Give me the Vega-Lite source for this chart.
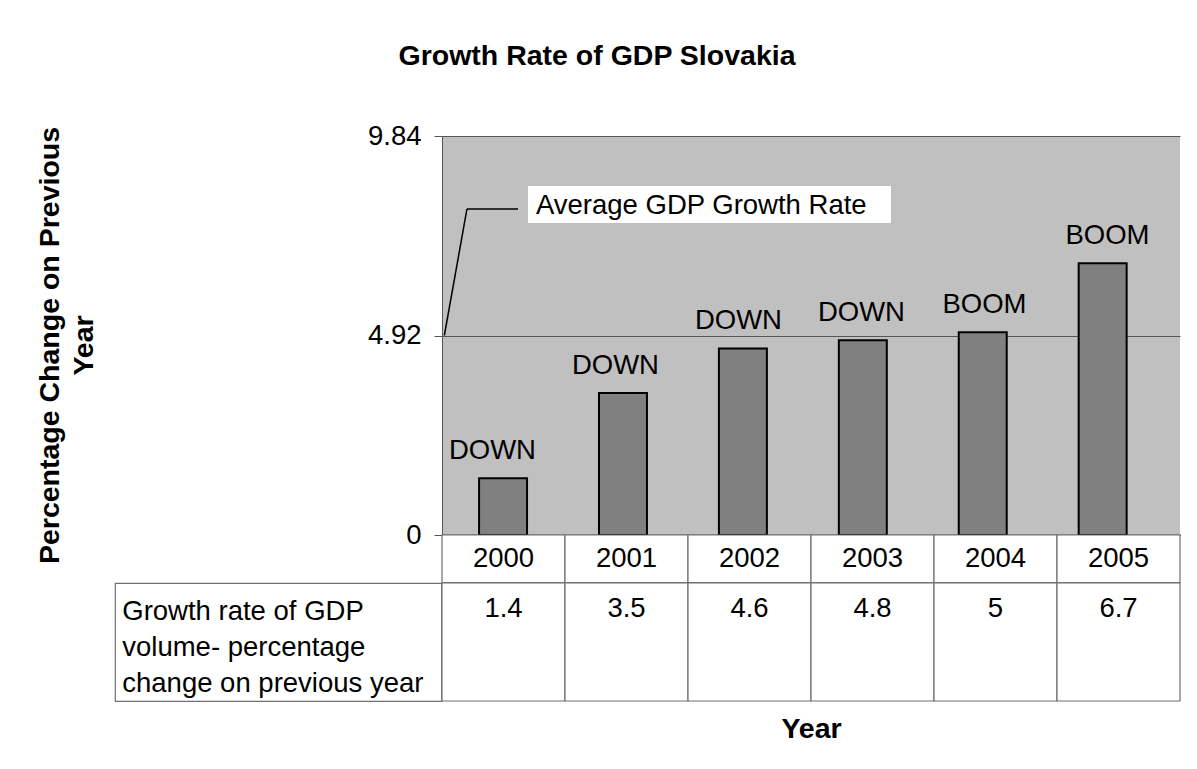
{
  "$schema": "https://vega.github.io/schema/vega-lite/v6.json",
  "background": "white",
  "padding": {"left": 35, "top": 41, "right": 5, "bottom": 5},
  "autosize": {"type": "pad"},
  "config": {"font": "Liberation Sans", "view": {"stroke": null}},
  "datasets": {
    "gdp": [
      {"year": "2000", "growth": 1.4, "phase": "DOWN"},
      {"year": "2001", "growth": 3.5, "phase": "DOWN"},
      {"year": "2002", "growth": 4.6, "phase": "DOWN"},
      {"year": "2003", "growth": 4.8, "phase": "DOWN"},
      {"year": "2004", "growth": 5.0, "phase": "BOOM"},
      {"year": "2005", "growth": 6.7, "phase": "BOOM"}
    ],
    "notes": [
      {"note": "Average GDP Growth Rate", "level": 4.92}
    ]
  },
  "columns": 2,
  "spacing": 0,
  "bounds": "flush",
  "concat": [
    {
      "width": 326.5,
      "height": 399,
      "data": {"values": []},
      "mark": "point"
    },
    {
      "width": 738,
      "height": 399,
      "title": {
        "text": "Growth Rate of GDP Slovakia",
        "fontSize": 28.5,
        "fontWeight": "bold",
        "color": "black",
        "anchor": "middle",
        "frame": "group",
        "baseline": "alphabetic",
        "dx": -214,
        "offset": 29
      },
      "view": {"fill": "#C0C0C0", "stroke": null},
      "data": {"name": "gdp"},
      "resolve": {"scale": {"x": "independent"}},
      "layer": [
        {
          "mark": {"type": "bar", "fill": "#808080", "stroke": "black", "strokeWidth": 2},
          "encoding": {
            "x": {
              "field": "year",
              "type": "nominal",
              "scale": {"paddingInner": 0.6, "paddingOuter": 0.377, "align": 0.41},
              "axis": {"labels": false, "ticks": false, "grid": false, "title": null, "domain": true, "domainColor": "black", "domainWidth": 1.5}
            },
            "y": {
              "field": "growth",
              "type": "quantitative",
              "scale": {"domain": [0, 9.84], "nice": false, "zero": true},
              "axis": {
                "values": [0, 4.92, 9.84],
                "format": ".3~r",
                "grid": true,
                "gridColor": "#555555",
                "gridWidth": 1,
                "gridOpacity": 1,
                "domainColor": "#555555",
                "tickColor": "#555555",
                "tickSize": 8,
                "labelFontSize": 27.5,
                "labelColor": "black",
                "labelPadding": 13,
                "title": ["Percentage Change on Previous", "Year"],
                "titleFontSize": 28.5,
                "titleFontWeight": "bold",
                "titleColor": "black",
                "titleAngle": 270,
                "titleAlign": "center",
                "titleBaseline": "alphabetic",
                "titleX": -384,
                "titleY": 209,
                "titleLineHeight": 34
              }
            }
          }
        },
        {
          "mark": {"type": "text", "fontSize": 27.5, "baseline": "alphabetic", "dy": -19.5, "color": "black"},
          "encoding": {
            "x": {
              "field": "year",
              "type": "nominal",
              "scale": {"paddingInner": 0.6, "paddingOuter": 0.377, "align": 0.41},
              "axis": null
            },
            "y": {"field": "growth", "type": "quantitative"},
            "text": {"field": "phase"}
          }
        },
        {
          "data": {"name": "notes"},
          "mark": {"type": "rule", "color": "black", "strokeWidth": 1.5},
          "encoding": {
            "x": {"datum": 0.019, "type": "quantitative", "scale": {"domain": [0, 6]}, "axis": null},
            "x2": {"datum": 0.203},
            "y": {"field": "level", "type": "quantitative"},
            "y2": {"datum": 8.04}
          }
        },
        {
          "data": {"name": "notes"},
          "mark": {"type": "rule", "color": "black", "strokeWidth": 1.5},
          "encoding": {
            "x": {"datum": 0.203, "type": "quantitative", "scale": {"domain": [0, 6]}, "axis": null},
            "x2": {"datum": 0.618},
            "y": {"datum": 8.04, "type": "quantitative"}
          }
        },
        {
          "data": {"name": "notes"},
          "mark": {"type": "rect", "fill": "white"},
          "encoding": {
            "x": {"datum": 0.699, "type": "quantitative", "scale": {"domain": [0, 6]}, "axis": null},
            "x2": {"datum": 3.65},
            "y": {"datum": 8.607, "type": "quantitative"},
            "y2": {"datum": 7.694}
          }
        },
        {
          "data": {"name": "notes"},
          "mark": {"type": "text", "fontSize": 27.5, "align": "left", "baseline": "middle", "color": "black"},
          "encoding": {
            "x": {"datum": 0.764, "type": "quantitative", "scale": {"domain": [0, 6]}, "axis": null},
            "y": {"datum": 8.11, "type": "quantitative"},
            "text": {"field": "note"}
          }
        }
      ]
    },
    {
      "width": 326.5,
      "height": 47.7,
      "data": {"values": []},
      "mark": "point"
    },
    {
      "width": 738,
      "height": 47.7,
      "data": {"name": "gdp"},
      "encoding": {
        "x": {"field": "year", "type": "nominal", "scale": {"paddingInner": 0, "paddingOuter": 0}, "axis": null}
      },
      "layer": [
        {"mark": {"type": "rect", "fill": "white", "stroke": "#707070", "strokeWidth": 1.2}},
        {
          "mark": {"type": "text", "fontSize": 27.5, "baseline": "middle", "color": "black"},
          "encoding": {"text": {"field": "year"}}
        }
      ]
    },
    {
      "width": 326.5,
      "height": 118,
      "view": {"stroke": "#707070", "strokeWidth": 1.2, "fill": "white"},
      "data": {"values": [{}]},
      "mark": {
        "type": "text",
        "text": ["Growth rate of GDP", "volume- percentage", "change on previous year"],
        "align": "left",
        "baseline": "alphabetic",
        "dx": -156,
        "dy": -22.4,
        "lineHeight": 36,
        "fontSize": 27.5,
        "color": "black"
      }
    },
    {
      "width": 738,
      "height": 118,
      "data": {"name": "gdp"},
      "encoding": {
        "x": {
          "field": "year",
          "type": "nominal",
          "scale": {"paddingInner": 0, "paddingOuter": 0},
          "axis": {"labels": false, "ticks": false, "domain": false, "grid": false, "title": "Year", "titleFontSize": 28.5, "titleFontWeight": "bold", "titleColor": "black", "titleBaseline": "alphabetic", "titlePadding": 36}
        }
      },
      "layer": [
        {"mark": {"type": "rect", "fill": "white", "stroke": "#707070", "strokeWidth": 1.2}},
        {
          "mark": {"type": "text", "fontSize": 27.5, "baseline": "middle", "dy": -32.7, "color": "black"},
          "encoding": {"text": {"field": "growth", "type": "quantitative", "format": ".2~r"}}
        }
      ]
    }
  ]
}
